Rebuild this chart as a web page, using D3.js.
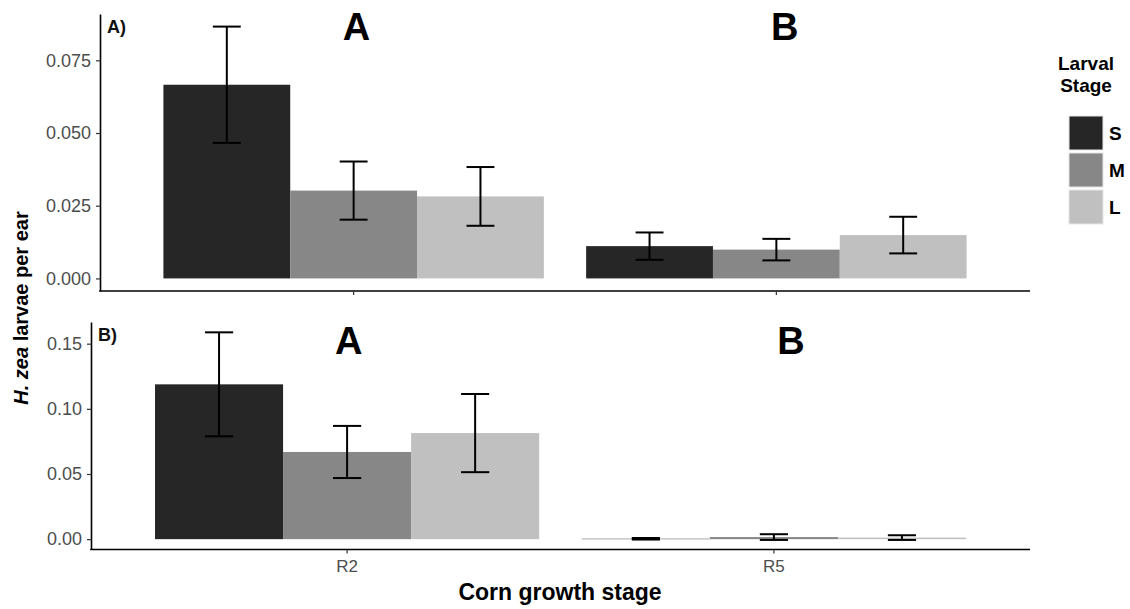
<!DOCTYPE html>
<html>
<head>
<meta charset="utf-8">
<script src="https://cdn.jsdelivr.net/npm/d3@7"></script>
<style>
  body { margin: 0; background: #fff; }
  text { font-family: "Liberation Sans", Arial, Helvetica, sans-serif; }
</style>
</head>
<body>
<svg id="chart" width="1130" height="609"></svg>
<script>
// Corn growth stages on the x axis and larval size classes within each group
const growthStages = ["R2", "R5"];
const larvalStages = ["S", "M", "L"];
const stageColors = ["#262626", "#878787", "#c0c0c0"];

// Panel A): mean larvae per ear (rows = growth stage, columns = S, M, L) and standard errors
const meanA = [[0.0666, 0.0302, 0.0282], [0.0111, 0.0099, 0.0149]];
const seA   = [[0.0200, 0.0100, 0.0101], [0.0047, 0.0037, 0.0063]];
// Panel B)
const meanB = [[0.1188, 0.0669, 0.0814], [0.0003, 0.0016, 0.0012]];
const seB   = [[0.0399, 0.0200, 0.0300], [0.0006, 0.0022, 0.0018]];

// y-axis tick values for each panel
const ticksA = [0, 0.025, 0.050, 0.075];
const ticksB = [0, 0.05, 0.10, 0.15];

// significance letters over each growth stage, with their position in data units
const lettersA = ["A", "B"];
const letterXA = [1.007, 2.02];
const letterYA = [0.0868, 0.0868];
const lettersB = ["A", "B"];
const letterXB = [1.004, 2.04];
const letterYB = [0.1525, 0.1525];

const panels = [
  { tag: "A)", means: meanA, ses: seA, ticks: ticksA, fmt: ".3f",
    letters: lettersA, lx: letterXA, ly: letterYA,
    left: 100, right: 1030, top: 14, bottom: 291, showLabels: false },
  { tag: "B)", means: meanB, ses: seB, ticks: ticksB, fmt: ".2f",
    letters: lettersB, lx: letterXB, ly: letterYB,
    left: 91, right: 1030, top: 322, bottom: 549.5, showLabels: true }
];

const svg = d3.select("#chart");
svg.append("rect").attr("width", 1130).attr("height", 609).attr("fill", "#fff");

const fillScale = d3.scaleOrdinal().domain(larvalStages).range(stageColors);

panels.forEach(p => {
  const x = d3.scaleBand().domain(growthStages)
    .range([p.left, p.right]).paddingInner(0.1).paddingOuter(0.15);
  // continuous position in category units (R2 = 1, R5 = 2) for annotations
  const xc = d3.scaleLinear().domain([0.4, 2.6]).range([p.left, p.right]);
  const xSub = d3.scaleBand().domain(larvalStages).range([0, x.bandwidth()]);

  const hi = d3.max(p.means.flatMap((row, i) => row.map((m, j) => m + p.ses[i][j])));
  const y = d3.scaleLinear().domain([-0.05 * hi, 1.05 * hi]).range([p.bottom, p.top]);

  const rows = [];
  growthStages.forEach((g, i) => larvalStages.forEach((s, j) => {
    rows.push({ g, s, mean: p.means[i][j], se: p.ses[i][j] });
  }));

  const g = svg.append("g");

  // bars
  g.selectAll("rect.bar").data(rows).join("rect")
    .attr("class", "bar")
    .attr("x", d => x(d.g) + xSub(d.s))
    .attr("width", xSub.bandwidth())
    .attr("y", d => y(Math.max(0, d.mean)))
    .attr("height", d => Math.abs(y(0) - y(d.mean)))
    .attr("fill", d => fillScale(d.s));

  // error bars
  const capW = xSub.bandwidth() * 0.22;
  const cx = d => x(d.g) + xSub(d.s) + xSub.bandwidth() / 2;
  const eb = g.selectAll("g.err").data(rows).join("g").attr("class", "err")
    .attr("stroke", "#000").attr("stroke-width", 2).attr("fill", "none");
  eb.append("line")
    .attr("x1", cx).attr("x2", cx)
    .attr("y1", d => y(d.mean + d.se)).attr("y2", d => y(d.mean - d.se));
  eb.append("line")
    .attr("x1", d => cx(d) - capW / 2).attr("x2", d => cx(d) + capW / 2)
    .attr("y1", d => y(d.mean + d.se)).attr("y2", d => y(d.mean + d.se));
  eb.append("line")
    .attr("x1", d => cx(d) - capW / 2).attr("x2", d => cx(d) + capW / 2)
    .attr("y1", d => y(d.mean - d.se)).attr("y2", d => y(d.mean - d.se));

  // y axis
  const ya = g.append("g").attr("transform", `translate(${p.left},0)`)
    .call(d3.axisLeft(y).tickValues(p.ticks).tickFormat(d3.format(p.fmt))
      .tickSize(4).tickSizeOuter(0).tickPadding(5));
  ya.select(".domain").attr("stroke", "#000").attr("stroke-width", 1.6);
  ya.selectAll(".tick line").attr("stroke", "#333").attr("stroke-width", 1.2);
  ya.selectAll(".tick text").attr("fill", "#4d4d4d").style("font-size", "18px")
    .style("font-family", "'Liberation Sans', Arial, sans-serif");

  // x axis
  const xa = g.append("g").attr("transform", `translate(0,${p.bottom})`)
    .call(d3.axisBottom(x).tickSize(4).tickSizeOuter(0).tickPadding(6));
  xa.select(".domain").attr("stroke", "#000").attr("stroke-width", 1.6)
    .attr("d", `M${p.left - 0.8},0H${p.right}`);
  xa.selectAll(".tick line").attr("stroke", "#333").attr("stroke-width", 1.2);
  xa.selectAll(".tick text").attr("fill", "#4d4d4d").style("font-size", "17px")
    .style("font-family", "'Liberation Sans', Arial, sans-serif")
    .style("display", p.showLabels ? null : "none");

  // panel tag
  g.append("text").attr("x", p.left + 7).attr("y", p.top + 19)
    .attr("font-weight", "bold").attr("font-size", 18).attr("fill", "#111")
    .text(p.tag);

  // significance letters
  g.selectAll("text.letter").data(p.letters).join("text")
    .attr("class", "letter")
    .attr("x", (d, i) => xc(p.lx[i]))
    .attr("y", (d, i) => y(p.ly[i]))
    .attr("dy", "0.36em")
    .attr("text-anchor", "middle")
    .attr("font-weight", "bold").attr("font-size", 38).attr("fill", "#000")
    .text(d => d);
});

// axis titles
svg.append("text").attr("x", 560).attr("y", 600)
  .attr("text-anchor", "middle").attr("font-weight", "bold").attr("font-size", 23)
  .attr("fill", "#000").text("Corn growth stage");

const yt = svg.append("text")
  .attr("transform", "translate(28,308) rotate(-90)")
  .attr("text-anchor", "middle").attr("font-weight", "bold").attr("font-size", 20)
  .attr("fill", "#000");
yt.append("tspan").attr("font-style", "italic").text("H. zea");
yt.append("tspan").text(" larvae per ear");

// legend
const legend = svg.append("g");
legend.append("text").attr("x", 1086).attr("y", 70).attr("text-anchor", "middle")
  .attr("font-weight", "bold").attr("font-size", 19).attr("fill", "#000").text("Larval");
legend.append("text").attr("x", 1086).attr("y", 92).attr("text-anchor", "middle")
  .attr("font-weight", "bold").attr("font-size", 19).attr("fill", "#000").text("Stage");
const keys = legend.selectAll("g.key").data(larvalStages).join("g").attr("class", "key")
  .attr("transform", (d, i) => `translate(1069,${116 + i * 37})`);
keys.append("rect").attr("width", 34).attr("height", 34)
  .attr("fill", d => fillScale(d)).attr("stroke", "#e6e6e6").attr("stroke-width", 1);
keys.append("text").attr("x", 40).attr("y", 17).attr("dy", "0.36em")
  .attr("font-weight", "bold").attr("font-size", 19).attr("fill", "#000").text(d => d);
</script>
</body>
</html>
